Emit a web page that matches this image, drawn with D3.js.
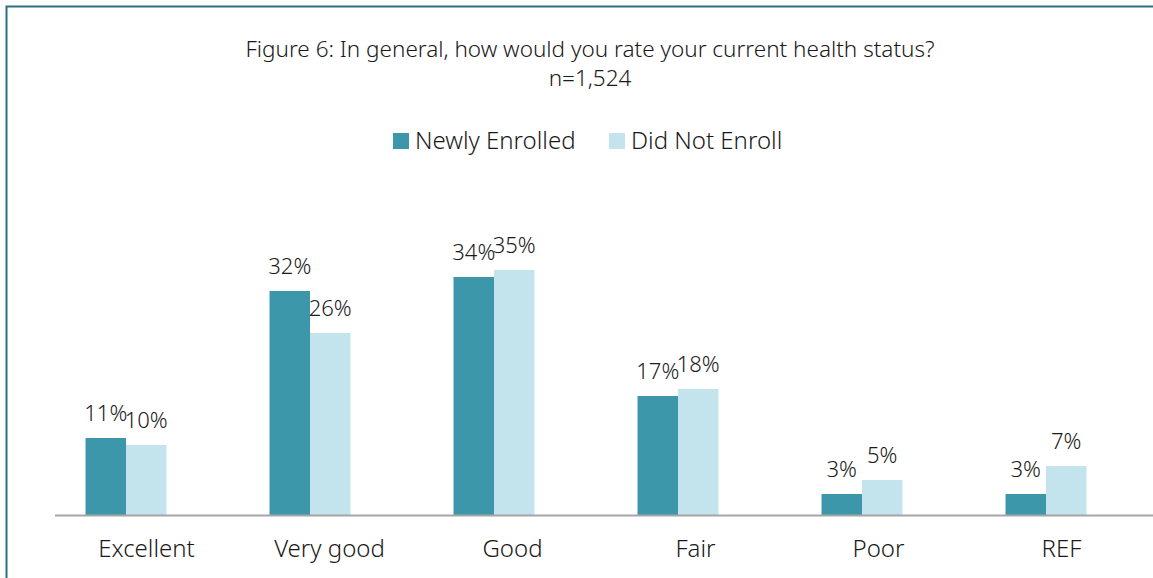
<!DOCTYPE html>
<html>
<head>
<meta charset="utf-8">
<script src="https://cdn.jsdelivr.net/npm/d3@7"></script>
<style>
  html, body { margin: 0; padding: 0; background: #fff; }
  svg { display: block; font-family: "Noto Sans", Lato, sans-serif; font-weight: 300; }
</style>
</head>
<body>
<svg id="chart" width="1153" height="578"></svg>
<script>
const categories = ["Excellent", "Very good", "Good", "Fair", "Poor", "REF"];
const seriesNames = ["Newly Enrolled", "Did Not Enroll"];
const newlyEnrolled = [11, 32, 34, 17, 3, 3];
const didNotEnroll = [10, 26, 35, 18, 5, 7];
const colors = ["#3d97ab", "#c3e4ec"];

const svg = d3.select("#chart");
const W = 1153, H = 578;
const ink = "#1a1a1a";

// frame: top and left rule
svg.append("path")
  .attr("d", `M6.5,${H} V6.5 H${W}`)
  .attr("fill", "none")
  .attr("stroke", "#2a6f80")
  .attr("stroke-width", 2);

// title
svg.append("text").attr("x", 590).attr("y", 57).attr("text-anchor", "middle")
  .attr("font-size", 22.5).attr("fill", ink)
  .text("Figure 6: In general, how would you rate your current health status?");
svg.append("text").attr("x", 590).attr("y", 86).attr("text-anchor", "middle")
  .attr("font-size", 22.5).attr("fill", ink)
  .text("n=1,524");

// legend
const legendX = [393, 609];
seriesNames.forEach((name, i) => {
  const g = svg.append("g").attr("transform", `translate(${legendX[i]},133)`);
  g.append("rect").attr("width", 16).attr("height", 16).attr("fill", colors[i]);
  g.append("text").attr("x", 22).attr("y", 16).attr("font-size", 24)
    .attr("fill", ink).text(name);
});

const baseY = 515;
// category bands along the axis (labels), and the bar clusters inside them
const xAxisScale = d3.scaleBand().domain(categories).range([55, W]);
const x = d3.scaleBand().domain(categories).range([34, 1138]).paddingInner(0.56).paddingOuter(0.28);
const xs = d3.scaleBand().domain(seriesNames).range([0, x.bandwidth()]);
const y = d3.scaleLinear().domain([0, 40]).range([baseY, baseY - 280]);

const data = categories.map((c, i) => ({ cat: c, vals: [newlyEnrolled[i], didNotEnroll[i]] }));

const groups = svg.append("g").selectAll("g").data(data).join("g")
  .attr("transform", d => `translate(${x(d.cat)},0)`);

groups.selectAll("rect").data(d => d.vals.map((v, i) => ({ v, s: seriesNames[i], i })))
  .join("rect")
  .attr("x", d => xs(d.s))
  .attr("width", xs.bandwidth())
  .attr("y", d => y(d.v))
  .attr("height", d => baseY - y(d.v))
  .attr("fill", d => colors[d.i]);

groups.selectAll("text.val").data(d => d.vals.map((v, i) => ({ v, s: seriesNames[i] })))
  .join("text").attr("class", "val")
  .attr("x", d => xs(d.s) + xs.bandwidth() / 2)
  .attr("y", d => y(d.v) - 17)
  .attr("text-anchor", "middle")
  .attr("font-size", 22).attr("fill", ink)
  .text(d => d.v + "%");

// baseline
svg.append("line").attr("x1", 55).attr("x2", W).attr("y1", baseY + 0.5).attr("y2", baseY + 0.5)
  .attr("stroke", "#a6a6a6").attr("stroke-width", 2);

// category axis labels
const axis = d3.axisBottom(xAxisScale).tickSize(0).tickPadding(25);
const ax = svg.append("g").attr("transform", `translate(0,${baseY})`).call(axis);
ax.select(".domain").remove();
ax.selectAll("text").attr("font-size", 24).attr("fill", ink)
  .attr("font-family", "'Noto Sans', Lato, sans-serif").attr("font-weight", 300);
</script>
</body>
</html>
